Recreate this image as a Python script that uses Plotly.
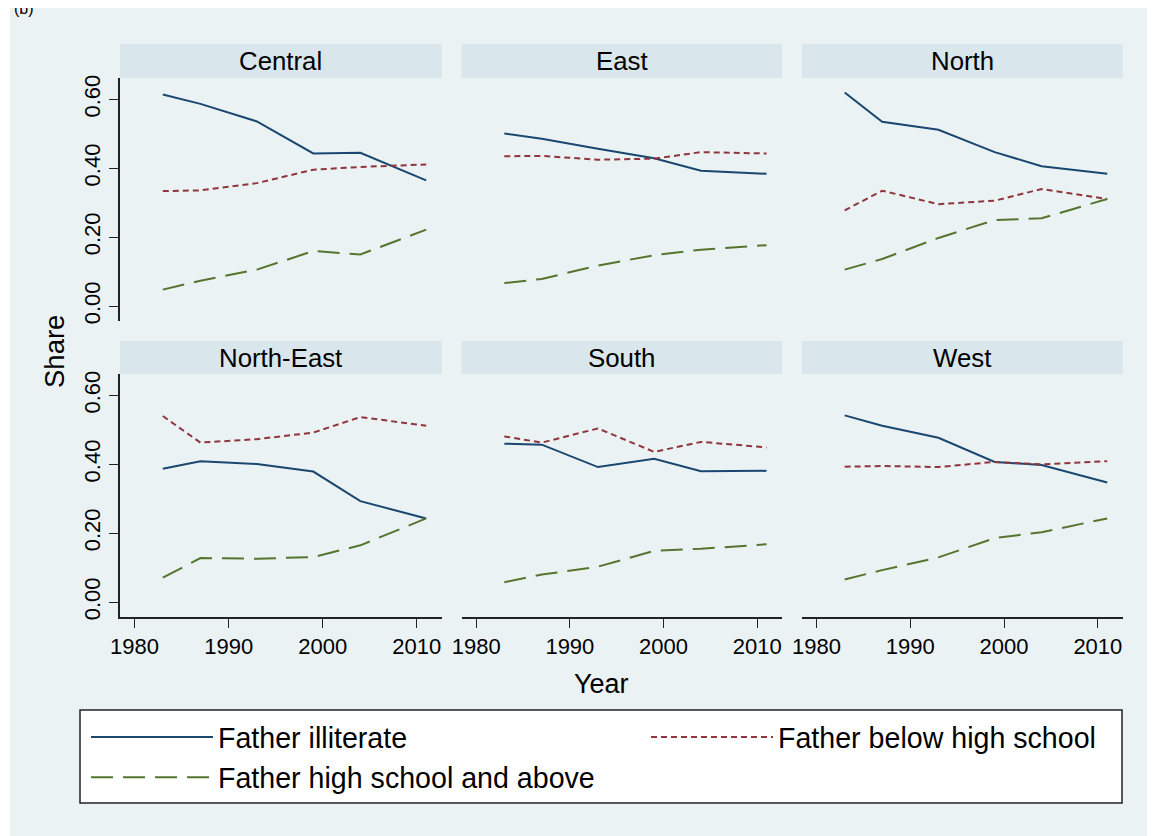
import plotly.graph_objects as go

# ---------------- data ----------------
years = [1983, 1987, 1993, 1999, 2004, 2011]
regions = ["Central", "East", "North", "North-East", "South", "West"]
series_names = ["Father illiterate", "Father below high school", "Father high school and above"]

central_illit = [0.614, 0.587, 0.536, 0.443, 0.445, 0.365]
central_below = [0.334, 0.336, 0.357, 0.396, 0.404, 0.411]
central_hs = [0.048, 0.074, 0.106, 0.160, 0.150, 0.222]

east_illit = [0.501, 0.486, 0.457, 0.429, 0.393, 0.384]
east_below = [0.435, 0.436, 0.425, 0.428, 0.447, 0.443]
east_hs = [0.067, 0.079, 0.118, 0.148, 0.164, 0.177]

north_illit = [0.620, 0.535, 0.512, 0.447, 0.406, 0.384]
north_below = [0.278, 0.335, 0.296, 0.306, 0.340, 0.311]
north_hs = [0.106, 0.137, 0.198, 0.250, 0.255, 0.311]

northeast_illit = [0.387, 0.409, 0.401, 0.379, 0.293, 0.243]
northeast_below = [0.540, 0.463, 0.473, 0.492, 0.537, 0.512]
northeast_hs = [0.071, 0.128, 0.126, 0.131, 0.165, 0.243]

south_illit = [0.460, 0.457, 0.392, 0.416, 0.380, 0.381]
south_below = [0.481, 0.463, 0.504, 0.436, 0.465, 0.449]
south_hs = [0.058, 0.080, 0.103, 0.149, 0.155, 0.168]

west_illit = [0.542, 0.512, 0.477, 0.407, 0.398, 0.347]
west_below = [0.393, 0.395, 0.392, 0.407, 0.400, 0.409]
west_hs = [0.066, 0.093, 0.130, 0.186, 0.203, 0.243]

x_ticks = [1980, 1990, 2000, 2010]
y_ticks = [0.0, 0.2, 0.4, 0.6]

panel_data = [
    (central_illit, central_below, central_hs),
    (east_illit, east_below, east_hs),
    (north_illit, north_below, north_hs),
    (northeast_illit, northeast_below, northeast_hs),
    (south_illit, south_below, south_hs),
    (west_illit, west_below, west_hs),
]

# ---------------- style ----------------
OFF = 8                      # page body margin of the html page
W, H = 1155 - OFF, 836 - OFF
BG = "#EAF2F3"
HEAD = "#D9E6EB"
FONT = "Liberation Sans, Arial, sans-serif"
colors = ["#1A476F", "#90353B", "#55752F"]
dashes = ["solid", "6px,4px", "22px,10px"]
legend_of = ["legend", "legend2", "legend"]


def px(x):
    return (x - OFF) / W


def py(y):
    return 1 - (y - OFF) / H


col_x = [(120, 441.7), (461.7, 782), (802, 1122.7)]
row_y = [(78, 321), (374, 617)]
head_y = [(44, 78), (341, 374)]

fig = go.Figure()
layout = {}
shapes = [
    dict(type="rect", xref="paper", yref="paper", x0=px(10), x1=1, y0=0, y1=1,
         fillcolor=BG, line=dict(width=0), layer="below"),
    # legend frame
    dict(type="rect", xref="paper", yref="paper", x0=px(80), x1=px(1122),
         y0=py(803), y1=py(710), fillcolor="white",
         line=dict(color="#222", width=1.5), layer="below"),
]
annotations = []

for i, reg in enumerate(regions):
    r, c = divmod(i, 3)
    n = "" if i == 0 else str(i + 1)
    xa, ya = "x" + n, "y" + n
    for k in range(3):
        fig.add_trace(go.Scatter(
            x=years, y=panel_data[i][k], mode="lines",
            name=series_names[k], legend=legend_of[k],
            showlegend=(i == 0),
            line=dict(color=colors[k], width=2, dash=dashes[k]),
            xaxis=xa, yaxis=ya, hoverinfo="skip",
        ))
    bottom = (r == 1)
    left = (c == 0)
    layout["xaxis" + n] = dict(
        domain=[px(col_x[c][0]), px(col_x[c][1])], anchor=ya, automargin=False,
        range=[1978.45, 2012.65], showgrid=False, zeroline=False,
        tickvals=x_ticks, showticklabels=bottom,
        ticks="outside" if bottom else "", ticklen=9, tickwidth=1.3, tickcolor="#222",
        showline=bottom, linecolor="#222", linewidth=1.5,
        tickfont=dict(family=FONT, size=22, color="black"),
    )
    layout["yaxis" + n] = dict(
        domain=[py(row_y[r][1]), py(row_y[r][0])], anchor=xa, automargin=False,
        range=[-0.043, 0.662], showgrid=True, gridcolor=BG, gridwidth=2,
        zeroline=False, tickvals=y_ticks, tickformat=".2f",
        showticklabels=left, ticks="outside" if left else "", ticklen=9,
        tickwidth=1.3, tickcolor="#222", tickangle=-90,
        showline=left, linecolor="#222", linewidth=1.5,
        ticklabelstandoff=0,
        tickfont=dict(family=FONT, size=22, color="black"),
    )
    shapes.append(dict(type="rect", xref="paper", yref="paper",
                       x0=px(col_x[c][0]), x1=px(col_x[c][1]),
                       y0=py(head_y[r][1]), y1=py(head_y[r][0]),
                       fillcolor=HEAD, line=dict(width=0), layer="below"))
    annotations.append(dict(text=reg, xref="paper", yref="paper",
                            x=px((col_x[c][0] + col_x[c][1]) / 2),
                            y=py((head_y[r][0] + head_y[r][1]) / 2),
                            xanchor="center", yanchor="middle", showarrow=False,
                            font=dict(family=FONT, size=25.8, color="black")))

annotations.append(dict(text="Year", xref="paper", yref="paper", x=px(601), y=py(684),
                        xanchor="center", yanchor="middle", showarrow=False,
                        font=dict(family=FONT, size=27, color="black")))
annotations.append(dict(text="Share", xref="paper", yref="paper", x=px(54), y=py(352),
                        xanchor="center", yanchor="middle", showarrow=False, textangle=-90,
                        font=dict(family=FONT, size=27.5, color="black")))
annotations.append(dict(text="(b)", xref="paper", yref="paper", x=px(12), y=1.0,
                        xanchor="left", yanchor="middle", showarrow=False,
                        font=dict(family=FONT, size=16, color="black")))

legend_common = dict(
    orientation="v", yanchor="top", xanchor="left",
    bgcolor="rgba(0,0,0,0)", borderwidth=0, itemwidth=122, tracegroupgap=0,
    font=dict(family=FONT, size=28.6, color="black"), traceorder="normal",
)

fig.update_layout(
    template="none",
    width=W, height=H, margin=dict(l=0, r=0, t=0, b=0, pad=0, autoexpand=False),
    paper_bgcolor="white", plot_bgcolor="white",
    shapes=shapes, annotations=annotations,
    showlegend=True,
    legend=dict(x=px(86), y=py(712), **legend_common),
    legend2=dict(x=px(646), y=py(712), **legend_common),
    **layout,
)

fig.write_html("out.html")
